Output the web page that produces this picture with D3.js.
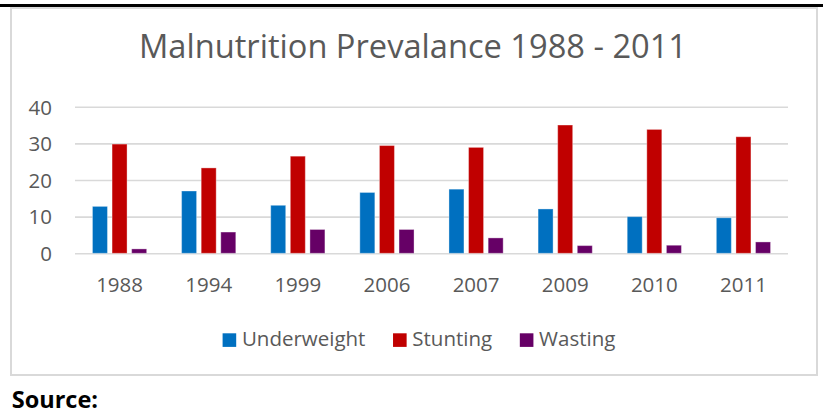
<!DOCTYPE html>
<html>
<head>
<meta charset="utf-8">
<script src="https://cdn.jsdelivr.net/npm/d3@7"></script>
<style>
  html, body { margin: 0; padding: 0; background: #fff; }
  svg { display: block; font-family: "Open Sans", sans-serif; }
</style>
</head>
<body>
<svg id="chart" width="823" height="418"></svg>
<script>
// data
const years = ['1988', '1994', '1999', '2006', '2007', '2009', '2010', '2011'];
const underweight = [12.8, 17.0, 13.1, 16.6, 17.5, 12.1, 10.0, 9.7];
const stunting = [29.8, 23.3, 26.5, 29.4, 28.9, 35.0, 33.8, 31.8];
const wasting = [1.2, 5.8, 6.5, 6.5, 4.2, 2.1, 2.2, 3.1];
const seriesNames = ['Underweight', 'Stunting', 'Wasting'];
const yTicks = [0, 10, 20, 30, 40];

const colors = { Underweight: '#0070C0', Stunting: '#C00000', Wasting: '#660066' };
const textColor = '#595959';
const gridColor = '#d9d9d9';

const rows = years.map((y, i) => ({
  year: y,
  Underweight: underweight[i],
  Stunting: stunting[i],
  Wasting: wasting[i]
}));

const svg = d3.select('#chart');

// black rule at top of page
svg.append('rect')
  .attr('x', 0).attr('y', 4)
  .attr('width', 823).attr('height', 3)
  .attr('fill', '#000');

// chart frame
svg.append('rect')
  .attr('x', 11).attr('y', 8)
  .attr('width', 806).attr('height', 367)
  .attr('fill', 'none')
  .attr('stroke', gridColor)
  .attr('stroke-width', 2);

// title
let title = svg.append('text')
  .attr('x', 413).attr('y', 58.3)
  .attr('text-anchor', 'middle')
  .attr('fill', textColor)
  .attr('font-size', 32.6)
  .text('Malnutrition Prevalance 1988 - 2011');
title.attr('textLength', 548).attr('lengthAdjust', 'spacingAndGlyphs');

const plotLeft = 75, plotRight = 788;

const x = d3.scaleBand().domain(years).range([plotLeft, plotRight]);
const xInner = d3.scaleBand().domain(seriesNames)
  .range([-29.4, 29.4])
  .paddingInner(0.235)
  .paddingOuter(0.1175);
const y = d3.scaleLinear().domain([0, 40]).range([253.3, 106.7]);

// y axis + grid
const yAxis = svg.append('g')
  .attr('transform', `translate(${plotLeft},0)`)
  .call(d3.axisLeft(y).tickValues(yTicks)
    .tickSizeInner(-(plotRight - plotLeft))
    .tickSizeOuter(0)
    .tickPadding(23));
yAxis.select('.domain').remove();
yAxis.selectAll('.tick line')
  .attr('stroke', gridColor)
  .attr('stroke-width', 1.6);
yAxis.selectAll('.tick text')
  .attr('fill', textColor)
  .attr('font-size', 20.5)
  .attr('font-family', '"Open Sans", sans-serif')
  .attr('dy', '0.357em');

// bars
const groups = svg.append('g')
  .selectAll('g')
  .data(rows)
  .join('g')
  .attr('transform', d => `translate(${x(d.year) + x.bandwidth() / 2},0)`);

groups.selectAll('rect')
  .data(d => seriesNames.map(k => ({ key: k, value: d[k] })))
  .join('rect')
  .attr('x', d => xInner(d.key))
  .attr('width', xInner.bandwidth())
  .attr('y', d => y(d.value))
  .attr('height', d => y(0) - y(d.value))
  .attr('fill', d => colors[d.key])
  .attr('stroke', '#fff')
  .attr('stroke-opacity', 0.35)
  .attr('stroke-width', 1);

// x axis labels
const xAxis = svg.append('g')
  .attr('transform', `translate(0,${y(0)})`)
  .call(d3.axisBottom(x).tickSize(0));
xAxis.select('.domain').remove();
xAxis.selectAll('.tick text')
  .attr('fill', textColor)
  .attr('font-size', 20.5)
  .attr('font-family', '"Open Sans", sans-serif')
  .attr('y', 291.7 - y(0))
  .attr('dy', null);

// legend
const legend = svg.append('g');
let lx = 0;
const items = [];
seriesNames.forEach(name => {
  let g = legend.append('g');
  g.append('rect')
    .attr('x', 0).attr('y', 333.3)
    .attr('width', 13.6).attr('height', 13.6)
    .attr('fill', colors[name]);
  let t = g.append('text')
    .attr('x', 19.3).attr('y', 345.7)
    .attr('fill', textColor)
    .attr('font-size', 20.5)
    .text(name);
  let w = 19.3 + t.node().getComputedTextLength();
  g.attr('transform', `translate(${lx},0)`);
  lx += w + 27.6;
  items.push(w);
});
const legendWidth = lx - 27.6;
legend.attr('transform', `translate(${419 - legendWidth / 2},0)`);

// source line under the frame
svg.append('text')
  .attr('x', 11.7).attr('y', 408.3)
  .attr('fill', '#000')
  .attr('font-weight', 'bold')
  .attr('font-size', 23.5)
  .text('Source:');
</script>
</body>
</html>
